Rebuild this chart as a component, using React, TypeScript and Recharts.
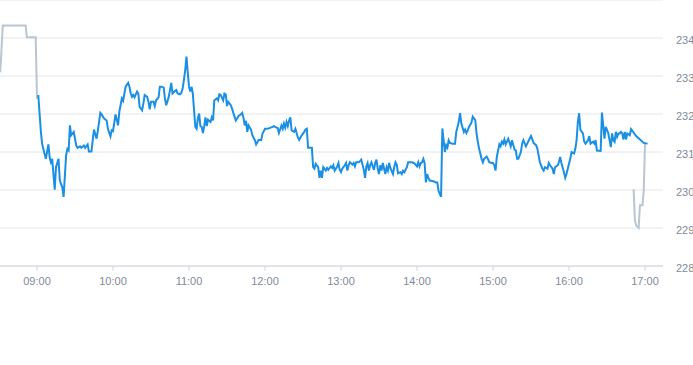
import React from 'react';
import { LineChart, Line, XAxis, YAxis, CartesianGrid } from 'recharts';

// pre-market (grey)
const preTimes = ['08:31', '08:33', '08:51', '08:52', '08:59', '09:00'];
const preValues = [233.1, 234.33, 234.33, 234.02, 234.02, 232.4];

// regular session (blue), one line per hour
const sessionTimes = [
  '09:01','09:03','09:04','09:06','09:07','09:09','09:10','09:11','09:12','09:14','09:15','09:17','09:18','09:20','09:21','09:23','09:24','09:25','09:26','09:27','09:29','09:31','09:32','09:34','09:35','09:37','09:38','09:40','09:41','09:43','09:44','09:45','09:47','09:48','09:50','09:51','09:53','09:55','09:56','09:58','09:59',
  '10:00','10:02','10:04','10:05','10:07','10:08','10:10','10:12','10:13','10:14','10:15','10:16','10:17','10:19','10:20','10:21','10:23','10:24','10:25','10:27','10:28','10:29','10:30','10:32','10:33','10:34','10:36','10:37','10:38','10:40','10:41','10:42','10:44','10:45','10:46','10:47','10:49','10:50','10:51','10:53','10:54','10:55','10:56','10:57','10:58','10:59',
  '11:00','11:01','11:02','11:03','11:04','11:05','11:06','11:07','11:08','11:09','11:10','11:11','11:12','11:13','11:14','11:15','11:17','11:18','11:19','11:20','11:22','11:23','11:24','11:25','11:27','11:28','11:29','11:30','11:31','11:33','11:34','11:35','11:37','11:38','11:39','11:41','11:42','11:43','11:44','11:45','11:46','11:47','11:48','11:49','11:50','11:52','11:53','11:55','11:57','11:58',
  '12:00','12:02','12:06','12:07','12:08','12:10','12:11','12:13','12:14','12:15','12:16','12:17','12:18','12:19','12:20','12:21','12:23','12:24','12:26','12:27','12:29','12:31','12:32','12:33','12:34','12:37','12:38','12:39','12:40','12:42','12:43','12:44','12:45','12:46','12:48','12:49','12:50','12:52','12:53','12:54','12:55','12:57','12:58','12:59',
  '13:00','13:01','13:03','13:04','13:05','13:06','13:07','13:09','13:10','13:11','13:12','13:14','13:15','13:16','13:18','13:19','13:20','13:21','13:22','13:23','13:24','13:26','13:27','13:28','13:29','13:30','13:31','13:32','13:33','13:35','13:36','13:37','13:38','13:39','13:41','13:42','13:43','13:44','13:45','13:47','13:48','13:49','13:50','13:52','13:53','13:56','13:58',
  '14:00','14:01','14:02','14:03','14:04','14:05','14:06','14:07','14:08','14:09','14:10','14:13','14:15','14:16','14:17','14:19','14:20','14:22','14:23','14:24','14:25','14:26','14:28','14:30','14:31','14:32','14:33','14:34','14:35','14:37','14:38','14:39','14:40','14:41','14:43','14:44','14:46','14:47','14:48','14:49','14:51','14:52','14:53','14:55','14:56','14:57','14:59',
  '15:00','15:01','15:02','15:03','15:05','15:06','15:07','15:08','15:09','15:10','15:12','15:14','15:15','15:17','15:18','15:19','15:20','15:22','15:23','15:24','15:26','15:27','15:28','15:30','15:31','15:32','15:34','15:35','15:36','15:37','15:39','15:40','15:41','15:43','15:44','15:45','15:47','15:48','15:49','15:51','15:52','15:53','15:54','15:56','15:57','15:58',
  '16:00','16:01','16:02','16:04','16:05','16:06','16:07','16:08','16:09','16:11','16:12','16:13','16:15','16:16','16:17','16:19','16:20','16:21','16:22','16:25','16:26','16:27','16:28','16:29','16:30','16:31','16:33','16:34','16:35','16:36','16:37','16:38','16:39','16:40','16:41','16:42','16:43','16:44','16:45','16:46','16:48','16:49','16:53','16:59',
  '17:02',
];
const sessionValues = [
  232.50,231.57,231.22,230.95,230.82,231.20,230.86,230.73,230.82,230.01,230.60,230.82,230.25,230.07,229.82,230.91,231.08,231.04,231.70,231.44,231.53,231.17,231.11,231.15,231.11,231.17,231.11,231.20,231.01,231.01,231.31,231.59,231.35,231.55,232.03,231.99,231.88,231.83,231.61,231.41,231.57,
  231.55,231.99,231.70,232.06,232.41,232.35,232.72,232.82,232.72,232.54,232.45,232.50,232.44,232.59,232.54,232.19,232.10,232.28,232.50,232.45,232.32,232.12,232.32,232.32,232.21,232.36,232.44,232.72,232.72,232.70,232.41,232.23,232.45,232.63,232.82,232.54,232.61,232.63,232.54,232.52,232.56,232.67,232.90,233.15,233.51,233.10,
  232.72,232.59,232.72,232.54,232.10,231.66,231.61,231.88,232.01,231.68,231.66,231.50,231.68,231.91,231.68,231.85,231.79,231.91,231.83,232.36,232.41,232.36,232.52,232.50,232.36,232.54,232.52,232.21,232.32,232.23,232.14,232.03,231.83,231.88,231.94,231.99,232.03,231.91,231.70,231.82,231.53,231.70,231.64,231.59,231.44,231.31,231.20,231.32,231.31,231.48,
  231.61,231.61,231.66,231.68,231.66,231.63,231.50,231.70,231.61,231.75,231.64,231.79,231.68,231.83,231.91,231.57,231.53,231.61,231.38,231.32,231.44,231.53,231.59,231.61,231.11,231.11,230.60,230.56,230.69,230.60,230.32,230.51,230.32,230.60,230.51,230.58,230.53,230.62,230.58,230.65,230.51,230.62,230.71,230.53,
  230.47,230.56,230.65,230.71,230.51,230.65,230.73,230.67,230.71,230.62,230.73,230.73,230.76,230.80,230.53,230.32,230.62,230.71,230.51,230.65,230.73,230.53,230.71,230.80,230.56,230.42,230.65,230.51,230.71,230.42,230.60,230.51,230.71,230.58,230.42,230.60,230.73,230.67,230.44,230.47,230.42,230.51,230.47,230.60,230.73,230.73,230.70,
  230.62,230.73,230.62,230.71,230.73,230.82,230.71,230.20,230.42,230.32,230.25,230.23,230.20,230.20,229.98,229.82,231.62,231.00,231.18,231.12,231.31,231.24,231.22,231.22,231.53,231.66,231.80,232.02,231.75,231.53,231.59,231.50,231.56,231.66,231.77,231.93,231.84,231.49,231.27,231.09,230.82,230.73,230.82,230.88,230.82,230.73,230.71,
  230.71,230.65,230.51,230.87,231.20,231.15,231.27,231.22,231.33,231.20,231.35,231.15,231.31,231.06,231.04,230.82,230.82,231.00,231.22,231.31,231.15,231.22,231.29,231.42,231.33,231.24,231.18,231.09,230.91,230.73,230.56,230.51,230.60,230.56,230.71,230.65,230.56,230.42,230.60,230.65,230.73,230.87,230.71,230.47,230.32,230.42,
  230.69,230.82,231.00,230.96,231.09,231.31,231.80,232.02,231.58,231.49,231.27,231.22,231.31,231.42,231.22,231.27,231.22,231.31,231.04,231.03,232.04,231.70,231.35,231.66,231.58,231.49,231.13,231.49,231.31,231.27,231.53,231.40,231.49,231.49,231.53,231.49,231.33,231.53,231.33,231.49,231.44,231.60,231.42,231.24,
  231.22,
];

// after-hours (grey)
const postTimes = ['16:51', '16:52', '16:53', '16:55', '16:56', '16:58', '16:59', '17:00', '17:01'];
const postValues = [230.02, 229.2, 229.07, 229.0, 229.6, 229.6, 229.98, 231.22, 231.22];

const xTicks = ['09:00', '10:00', '11:00', '12:00', '13:00', '14:00', '15:00', '16:00', '17:00'];
const yTicks = [228, 229, 230, 231, 232, 233, 234];

const toMin = (s: string) => {
  const [h, m] = s.split(':').map(Number);
  return h * 60 + m;
};
const fmt = (v: number) => {
  const h = Math.floor(v / 60);
  const m = Math.round(v % 60);
  return `${String(h).padStart(2, '0')}:${String(m).padStart(2, '0')}`;
};

const build = (times: string[], values: number[]) =>
  times.map((t, i) => ({ t: toMin(t), v: values[i] }));

const preData = build(preTimes, preValues);
const sessionData = build(sessionTimes, sessionValues);
const postData = build(postTimes, postValues);

const tickStyle = { fill: '#7f8a97', fontSize: 11, fontFamily: '"Liberation Sans", Arial, sans-serif' };

export default function App() {
  return (
    <div style={{ position: 'absolute', left: 0, top: 0, width: 693, height: 365, background: '#fff' }}>
      <LineChart width={693} height={300} margin={{ top: 0, right: 0, left: 0, bottom: 0 }}>
        <CartesianGrid vertical={false} stroke="#e3e6ea" />
        <XAxis
          type="number"
          dataKey="t"
          domain={[510.8, 1034.2]}
          ticks={xTicks.map(toMin)}
          tickFormatter={fmt}
          allowDataOverflow
          height={34}
          stroke="#cfd5dc"
          tickSize={5}
          tickMargin={6}
          tick={tickStyle}
        />
        <YAxis
          orientation="right"
          domain={[228, 235]}
          ticks={yTicks}
          allowDataOverflow
          width={30}
          axisLine={false}
          tickLine={false}
          tickMargin={7}
          tick={{ ...tickStyle, textAnchor: 'start', dy: 2 }}
        />
        <Line data={preData} dataKey="v" type="linear" stroke="#b8c6d1" strokeWidth={2} dot={false} activeDot={false} isAnimationActive={false} />
        <Line data={postData} dataKey="v" type="linear" stroke="#b8c6d1" strokeWidth={2} dot={false} activeDot={false} isAnimationActive={false} />
        <Line data={sessionData} dataKey="v" type="linear" stroke="#1a8fe3" strokeWidth={2} dot={false} activeDot={false} isAnimationActive={false} />
      </LineChart>
    </div>
  );
}
